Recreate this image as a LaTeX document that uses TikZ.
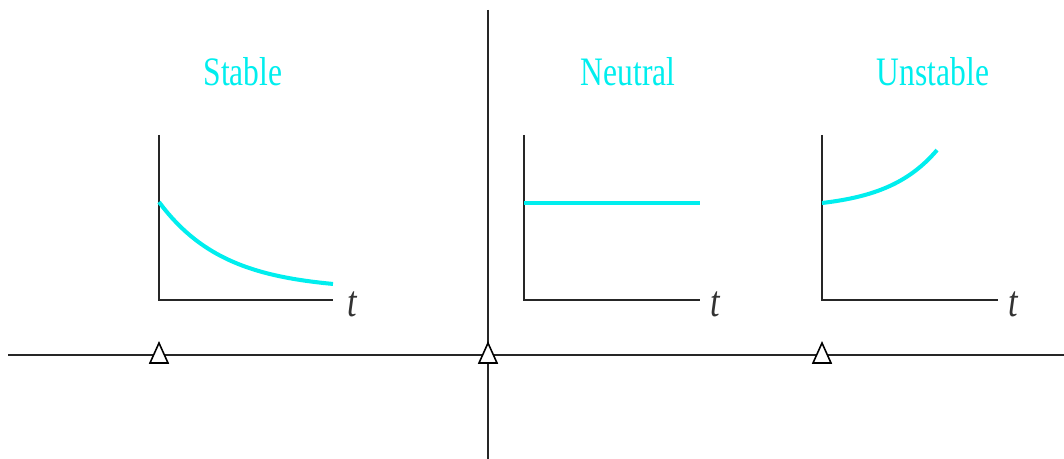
\documentclass[tikz,border=0pt]{standalone}
\usepackage{fontspec}
\usepackage{tikz}
\newfontfamily\labelfont[FakeStretch=0.78]{Liberation Serif}
\definecolor{respcyan}{RGB}{0,238,238}

\begin{document}
\begin{tikzpicture}[x=0.02cm,y=-0.02cm,
    axis/.style={black!85, line width=1.1pt},
    resp/.style={respcyan, line width=2.3pt},
    title/.style={text=respcyan, font=\labelfont\fontsize{23}{26}\selectfont},
    tlabel/.style={text=black!80, font=\labelfont\itshape\fontsize{25}{28}\selectfont},
    marker/.style={black, fill=white, line width=0.9pt}]
                \useasboundingbox (0,0) rectangle (1064,459);
                % real and imaginary axes
                \draw[axis] (8,355) -- (1064,355);
                \draw[axis] (488,10) -- (488,459);
                % stable
                \draw[axis] (159,135) -- (159,300) -- (333,300);
                \draw[resp] plot[domain=0:174, samples=40] ({159+\x},{202+88*(1-exp(-\x/65))});
                \node[title] (stable) at (243,72) {Stable};
                \node[tlabel] (tS) at (352,304) {t};
                % neutral
                \draw[axis] (524,135) -- (524,300) -- (700,300);
                \draw[resp] (524,203) -- (700,203);
                \node[title] (neutral) at (628,72) {Neutral};
                \node[tlabel] (tN) at (715,304) {t};
                % unstable
                \draw[axis] (822,135) -- (822,300) -- (998,300);
                \draw[resp] plot[domain=0:115, samples=40] ({822+\x},{203-5.9*(exp(\x/50)-1)});
                \node[title] (unstable) at (933,72) {Unstable};
                \node[tlabel] (tU) at (1013,304) {t};
                % pole markers
                \foreach \px in {159,488,822}
                    \filldraw[marker] (\px-9,363) -- (\px,343) -- (\px+9,363) -- cycle;
            \end{tikzpicture}
\end{document}
